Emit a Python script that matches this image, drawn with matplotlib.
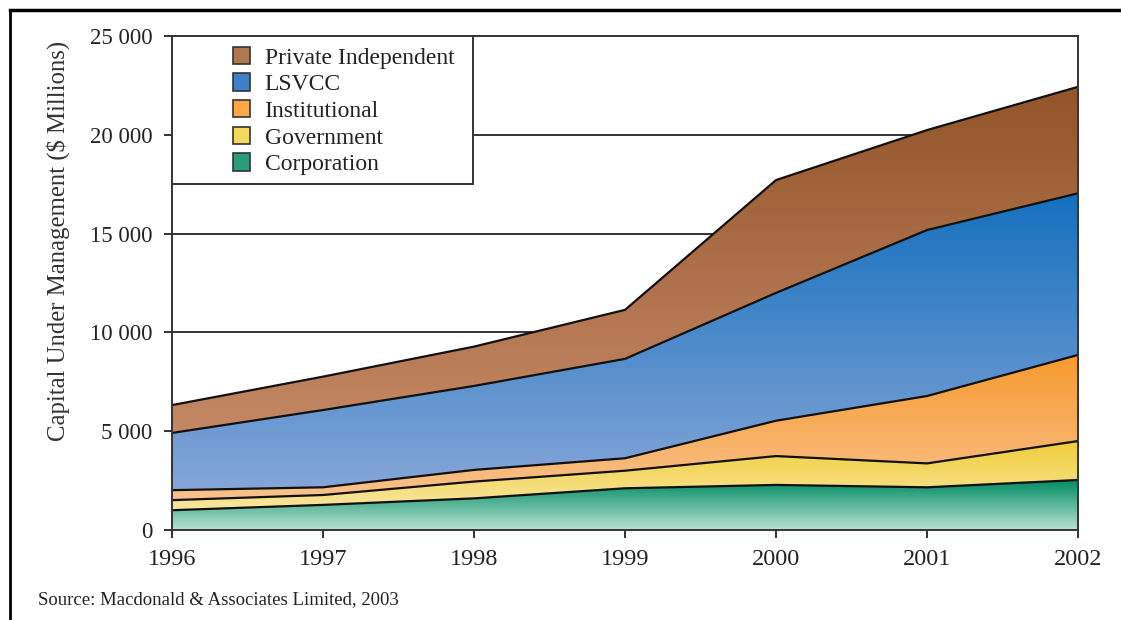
import matplotlib
matplotlib.use("Agg")
import matplotlib.pyplot as plt
import numpy as np
from matplotlib.colors import LinearSegmentedColormap
from matplotlib.lines import Line2D
from matplotlib.patches import Rectangle

## data: capital under management by source ($ millions)
years = [1996, 1997, 1998, 1999, 2000, 2001, 2002]
corporation = [1000, 1270, 1600, 2110, 2280, 2160, 2530]
government = [510, 500, 850, 890, 1460, 1210, 1970]
institutional = [505, 390, 590, 630, 1790, 3410, 4360]
lsvcc = [2895, 3910, 4250, 5030, 6470, 8400, 8180]
private_independent = [1410, 1690, 1990, 2480, 5710, 5060, 5390]

series = [
    ("Corporation", corporation, "#008c63", "#b8e2d2", "#2a9c7c"),
    ("Government", government, "#f0cd38", "#f9e6a0", "#f5d860"),
    ("Institutional", institutional, "#f79a2e", "#f9c28e", "#f8a848"),
    ("LSVCC", lsvcc, "#1570bd", "#86a6d8", "#3f7fc8"),
    ("Private Independent", private_independent, "#925428", "#c48866", "#b07850"),
]
y_ticks = [0, 5000, 10000, 15000, 20000, 25000]
y_tick_labels = ["0", "5 000", "10 000", "15 000", "20 000", "25 000"]

plt.rcParams["font.family"] = ["Liberation Serif", "DejaVu Serif"]

fig = plt.figure(figsize=(11.21, 6.2), dpi=100)
ax = fig.add_axes([0.1534, 0.1452, 0.8083, 0.7967])

x = np.array(years, dtype=float)
base = np.zeros(len(years))
grad = np.linspace(0, 1, 256).reshape(-1, 1)
handles = []
for name, vals, top_c, bot_c, leg_c in series:
    upper = base + np.array(vals, dtype=float)
    poly = ax.fill_between(x, base, upper, facecolor="none", edgecolor="none", zorder=2)
    cmap = LinearSegmentedColormap.from_list(name, [bot_c, top_c])
    im = ax.imshow(grad, cmap=cmap, origin="lower", aspect="auto",
                   extent=[x[0], x[-1], base.min(), upper.max()],
                   interpolation="bilinear", zorder=2)
    im.set_clip_path(poly.get_paths()[0], transform=ax.transData)
    ax.plot(x, upper, color="#111111", lw=1.6, zorder=3)
    handles.append(Rectangle((0, 0), 1, 1, facecolor=leg_c, edgecolor="#333333", lw=1.2))
    base = upper

ax.set_xlim(1996, 2002)
ax.set_ylim(0, 25000)
ax.set_xticks(years)
ax.set_yticks(y_ticks)
ax.set_yticklabels(y_tick_labels)
ax.tick_params(length=6, width=1.3, colors="#222222")
ax.tick_params(axis="x", labelsize=17.5, pad=8)
ax.tick_params(axis="y", labelsize=16.5, pad=8)
for s in ax.spines.values():
    s.set_color("#333333")
    s.set_linewidth(1.4)
    s.set_zorder(5)

for v in y_ticks[1:-1]:
    ax.axhline(v, color="#333333", lw=1.4, zorder=1)

ax.set_ylabel("Capital Under Management ($ Millions)", fontsize=17.8, color="#333333")
ax.yaxis.set_label_coords(-0.112, 0.585)

# legend box in the upper left corner
ax.add_patch(Rectangle((0, 0.70), 0.332, 0.30, transform=ax.transAxes,
                       facecolor="white", edgecolor="#333333", lw=1.4, zorder=6))
leg = ax.legend(handles[::-1], [s[0] for s in series][::-1],
                loc="upper left", bbox_to_anchor=(0.054, 1.002), frameon=False,
                fontsize=17, handlelength=0.75, handleheight=0.75, handletextpad=0.6,
                labelspacing=0.2, borderpad=0.0)
leg.set_zorder(7)
for t in leg.get_texts():
    t.set_color("#222222")

fig.text(38 / 1121, 1 - 600 / 620, "Source: Macdonald & Associates Limited, 2003",
         fontsize=13.5, color="#222222", va="center")

# outer frame lines
fig.add_artist(Line2D([10 / 1121, 1], [1 - 10 / 620, 1 - 10 / 620], color="black", lw=2.5))
fig.add_artist(Line2D([10 / 1121, 10 / 1121], [0, 1 - 10 / 620], color="black", lw=2))

fig.savefig("out.png", dpi=100)
